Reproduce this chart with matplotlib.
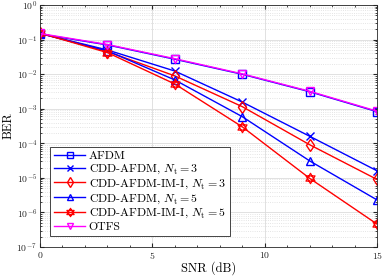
import numpy as np
import matplotlib.pyplot as plt
from matplotlib.path import Path
from matplotlib.ticker import LogLocator, MultipleLocator, NullFormatter

plt.rcParams['font.family'] = 'serif'
plt.rcParams['font.serif'] = ['cmr10']
plt.rcParams['mathtext.fontset'] = 'cm'
plt.rcParams['axes.unicode_minus'] = False
plt.rcParams['axes.formatter.use_mathtext'] = True

snr = [0, 3, 6, 9, 12, 15]

ber_afdm = [0.145, 0.070, 0.027, 0.0099, 0.0031, 8.2e-4]
ber_cdd3 = [0.150, 0.050, 0.0123, 1.56e-3, 1.6e-4, 1.6e-5]
ber_im3 = [0.155, 0.045, 0.0089, 1.15e-3, 9.1e-5, 9.0e-6]
ber_cdd5 = [0.150, 0.047, 0.0068, 5.9e-4, 3.1e-5, 2.3e-6]
ber_im5 = [0.155, 0.042, 0.0052, 3.0e-4, 9.7e-6, 4.6e-7]
ber_otfs = [0.150, 0.072, 0.028, 0.0102, 0.0032, 8.5e-4]

# star of David marker (two triangles)
a = np.deg2rad([90, 210, 330])
b = np.deg2rad([270, 30, 150])
verts = [(np.cos(t), np.sin(t)) for t in a] + [(0, 0)] + [(np.cos(t), np.sin(t)) for t in b] + [(0, 0)]
codes = [Path.MOVETO, Path.LINETO, Path.LINETO, Path.CLOSEPOLY] * 2
hexagram = Path(verts, codes)

fig = plt.figure(figsize=(3.88, 2.77), dpi=100)
ax = fig.add_axes([0.103, 0.108, 0.869, 0.874])

mk = dict(markerfacecolor='none', markersize=6, markeredgewidth=1.0, linewidth=1.0)
ax.semilogy(snr, ber_afdm, 's-', color='#0000ff', label='AFDM', **mk)
ax.semilogy(snr, ber_cdd3, 'x-', color='#0000ff', label=r'CDD-AFDM, $N_{\rm t}=3$', **mk)
ax.semilogy(snr, ber_im3, 'd-', color='#ff0000', label=r'CDD-AFDM-IM-I, $N_{\rm t}=3$', **mk)
ax.semilogy(snr, ber_cdd5, '^-', color='#0000ff', label=r'CDD-AFDM, $N_{\rm t}=5$', **mk)
ax.semilogy(snr, ber_im5, '-', marker=hexagram, color='#ff0000', label=r'CDD-AFDM-IM-I, $N_{\rm t}=5$',
            markerfacecolor='none', markersize=7.5, markeredgewidth=0.9, linewidth=1.0)
ax.semilogy(snr, ber_otfs, 'v-', color='#ff00ff', label='OTFS', **mk)

ax.set_xlim(0, 15)
ax.set_ylim(1e-7, 1)
ax.xaxis.set_major_locator(MultipleLocator(5))
ax.xaxis.set_minor_locator(MultipleLocator(1))
ax.yaxis.set_major_locator(LogLocator(base=10, numticks=10))
ax.yaxis.set_minor_locator(LogLocator(base=10, subs=np.arange(2, 10), numticks=20))
ax.yaxis.set_minor_formatter(NullFormatter())

ax.tick_params(which='both', direction='in', top=True, right=True, labelsize=7, colors='#262626', pad=2)
ax.tick_params(which='major', length=3)
ax.tick_params(which='minor', length=1.5)
ax.grid(True, which='major', color='#dcdcdc', linewidth=0.6)
ax.grid(True, which='minor', axis='y', color='#dcdcdc', linestyle=':', linewidth=0.6)
for s in ax.spines.values():
    s.set_color('#262626')
    s.set_linewidth(0.6)

ax.set_xlabel('SNR (dB)', fontsize=9, labelpad=0)
ax.set_ylabel('BER', fontsize=9)
ax.yaxis.set_label_coords(-0.074, 0.5)

leg = ax.legend(loc='lower left', bbox_to_anchor=(0.012, 0.02), fontsize=8.6, fancybox=False,
                edgecolor='#262626', framealpha=1, handlelength=2.6, labelspacing=0.12,
                borderpad=0.35, handletextpad=0.3, markerscale=0.8)
leg.get_frame().set_linewidth(0.6)

fig.savefig('out.png', dpi=100)
